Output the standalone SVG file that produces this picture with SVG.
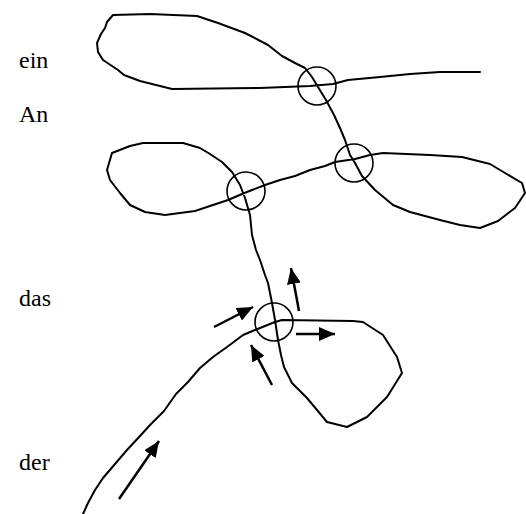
<svg xmlns="http://www.w3.org/2000/svg" width="526" height="514" viewBox="0 0 526 514">
<style>
.ink{fill:none;stroke:#000;stroke-width:2;stroke-linejoin:round;stroke-linecap:round}
.ring{fill:none;stroke:#000;stroke-width:1.6}
.arr{fill:none;stroke:#000;stroke-width:2.5;marker-end:url(#ah)}
.lbl{font-size:24px;fill:#000}
</style>
<defs>
<marker id="ah" markerUnits="userSpaceOnUse" markerWidth="18" markerHeight="14" refX="16" refY="7" orient="auto">
<path d="M0,0 L16,7 L0,14 z" fill="#000"/>
</marker>
</defs>
<rect width="526" height="514" fill="#fff"/>
<g id="labels" font-family="'Liberation Serif', 'Times New Roman', 'DejaVu Serif', serif">
<text class="lbl" x="19" y="68">ein</text>
<text class="lbl" x="19" y="122">An</text>
<text class="lbl" x="19" y="306">das</text>
<text class="lbl" x="19" y="470">der</text>
</g>
<g id="connectors">
<polyline class="ink" points="480,72 440,72 410,74 380,77 348,80 333,84 310,86 260,88 172,89 140,81 124,75 118,70 112,66 103,60 98,52 97,43 101,34 105,28 107,22 113,15 150,14 197,16 218,23 245,33 268,45 282,56 295,63 305,68 312,77 318,87 326,100 334,115 340,128 345,140 350,155 355,163 362,176 375,190 393,205 410,212 440,220 460,225 480,228 498,221 515,208 525,193 522,183 505,173 490,164 462,157 430,155 383,153 370,155 355,159 335,162 325,166 310,170 295,176 280,180 265,185 252,190 242,194 228,200 213,205 195,211 165,215 145,212 130,205 120,193 110,180 107,170 112,153 130,146 143,143 183,143 200,148 210,154 222,162 232,172 240,185 245,198 250,215 252,235 256,250 260,260 265,275 268,283 272,303 275,320 278,340 281,355 284,367 292,383 307,398 317,410 327,422 347,427 367,417 387,397 402,373 397,357 383,335 363,322 353,321 282,320 275,322 255,330 243,335 227,347 213,357 200,368 188,382 176,394 164,411 150,425 140,436 127,450 115,464 103,478 95,490 88,503 83,514"/>
<line class="arr" x1="214" y1="327" x2="253" y2="307"/>
<line class="arr" x1="299" y1="311" x2="291" y2="268"/>
<line class="arr" x1="296" y1="334" x2="335" y2="334"/>
<line class="arr" x1="272" y1="385" x2="251" y2="345"/>
<line class="arr" x1="119" y1="499" x2="159" y2="441"/>
</g>
<g id="node-top"><circle class="ring" cx="317" cy="86" r="19"/></g>
<g id="node-right"><circle class="ring" cx="354" cy="163" r="19"/></g>
<g id="node-left"><circle class="ring" cx="246" cy="191" r="19"/></g>
<g id="node-bottom"><circle class="ring" cx="274" cy="322" r="19"/></g>
</svg>
